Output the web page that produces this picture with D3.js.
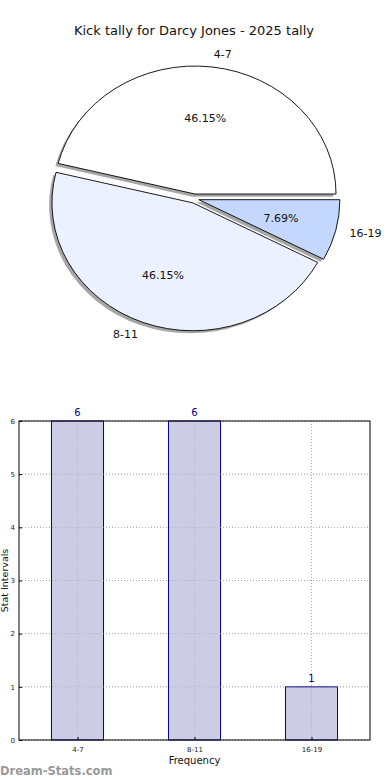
<!DOCTYPE html>
<html><head><meta charset="utf-8">
<script src="https://cdn.jsdelivr.net/npm/d3@7"></script>
<style>
html,body{margin:0;padding:0;background:#fff;}
svg{display:block;font-family:"DejaVu Sans",sans-serif;}
</style></head>
<body>
<svg id="c" width="390" height="780"></svg>
<script>
const title = "Kick tally for Darcy Jones - 2025 tally";
const categories = ["4-7", "8-11", "16-19"];
const values = [6, 6, 1];
const pieColors = ["#ffffff", "#ebf1ff", "#c4d8ff"];
const yTicks = [0, 1, 2, 3, 4, 5, 6];
const xLabel = "Frequency";
const yLabel = "Stat Intervals";
const watermark = "Dream-Stats.com";

const svg = d3.select("#c");

svg.append("text").attr("x", 194).attr("y", 35).attr("text-anchor", "middle")
  .attr("font-size", 13).attr("fill", "#111").text(title);

// ---- Pie ----
const cx = 194.5, cy = 198.6, rx = 141, ry = 128, ex = 4.5, ey = 4.6;
const total = d3.sum(values);
const pie = d3.pie().sort(null).startAngle(Math.PI / 2).endAngle(Math.PI / 2 - 2 * Math.PI);
const arcs = pie(values);
const arcGen = d3.arc().innerRadius(0).outerRadius(1);
const gPie = svg.append("g");

function off(d) {
  const m = (d.startAngle + d.endAngle) / 2;
  return [Math.sin(m) * ex, -Math.cos(m) * ey, m];
}
// shadows first
arcs.forEach((d, i) => {
  const [dx, dy] = off(d);
  gPie.append("path").attr("d", arcGen(d))
    .attr("transform", `translate(${cx + dx - 2.8},${cy + dy + 2.6}) scale(${rx},${ry})`)
    .attr("fill", "#4d4d4d").attr("fill-opacity", 0.5);
});
arcs.forEach((d, i) => {
  const [dx, dy] = off(d);
  gPie.append("path").attr("d", arcGen(d))
    .attr("transform", `translate(${cx + dx},${cy + dy}) scale(${rx},${ry})`)
    .attr("fill", pieColors[i]).attr("stroke", "#000").attr("stroke-width", 0.9)
    .attr("vector-effect", "non-scaling-stroke").attr("stroke-linejoin", "miter");
});
arcs.forEach((d, i) => {
  const [dx, dy, m] = off(d);
  const lx = cx + dx + Math.sin(m) * rx * 1.1, ly = cy + dy - Math.cos(m) * ry * 1.1;
  gPie.append("text").attr("x", lx).attr("y", ly).attr("dy", "0.35em")
    .attr("text-anchor", Math.sin(m) > 0 ? "start" : "end")
    .attr("font-size", 11).attr("fill", "#111").text(categories[i]);
  const px = cx + dx + Math.sin(m) * rx * 0.6, py = cy + dy - Math.cos(m) * ry * 0.6;
  gPie.append("text").attr("x", px).attr("y", py).attr("dy", "0.35em")
    .attr("text-anchor", "middle").attr("font-size", 11).attr("fill", "#111")
    .text((values[i] / total * 100).toFixed(2) + "%");
});

// ---- Bar chart ----
const L = 19, R = 370, T = 421, B = 740;
const x = d3.scaleLinear().domain([-0.5, categories.length - 0.5]).range([L, R]);
const y = d3.scaleLinear().domain([0, 6]).range([B, T]);
const bw = 0.445;
const gBar = svg.append("g");

// grid
yTicks.forEach(t => {
  gBar.append("line").attr("x1", L).attr("x2", R).attr("y1", y(t)).attr("y2", y(t))
    .attr("stroke", "#b8b8b8").attr("stroke-width", 1).attr("stroke-dasharray", "1,2");
});
categories.forEach((c, i) => {
  gBar.append("line").attr("x1", x(i)).attr("x2", x(i)).attr("y1", T).attr("y2", B)
    .attr("stroke", "#b8b8b8").attr("stroke-width", 1).attr("stroke-dasharray", "1,2");
});
// bars
categories.forEach((c, i) => {
  gBar.append("rect").attr("x", x(i - bw / 2)).attr("width", x(i + bw / 2) - x(i - bw / 2))
    .attr("y", y(values[i])).attr("height", y(0) - y(values[i]))
    .attr("fill", "#ccccE5").attr("stroke", "#00008b").attr("stroke-width", 1);
});
// grid over bars
yTicks.forEach(t => {
  gBar.append("line").attr("x1", L).attr("x2", R).attr("y1", y(t)).attr("y2", y(t))
    .attr("stroke", "#a0a0a0").attr("stroke-opacity", 0.6).attr("stroke-width", 1).attr("stroke-dasharray", "1,2");
});
categories.forEach((c, i) => {
  gBar.append("line").attr("x1", x(i)).attr("x2", x(i)).attr("y1", T).attr("y2", B)
    .attr("stroke", "#a0a0a0").attr("stroke-opacity", 0.6).attr("stroke-width", 1).attr("stroke-dasharray", "1,2");
});
// value labels
categories.forEach((c, i) => {
  gBar.append("text").attr("x", x(i)).attr("y", y(values[i]) - 5).attr("text-anchor", "middle")
    .attr("font-size", 10).attr("fill", "#00008b").text(values[i]);
});
// frame
gBar.append("rect").attr("x", L).attr("y", T).attr("width", R - L).attr("height", B - T)
  .attr("fill", "none").attr("stroke", "#000").attr("stroke-width", 1);

// axes
const yAxis = d3.axisLeft(y).tickValues(yTicks).tickSize(-3).tickPadding(4).tickFormat(d3.format("d"));
const ya = gBar.append("g").attr("transform", `translate(${L},0)`).call(yAxis);
ya.select(".domain").remove();
ya.selectAll("text").attr("font-size", 7).attr("fill", "#222").attr("font-family", "DejaVu Sans");
const xAxis = d3.axisBottom(x).tickValues(categories.map((c, i) => i)).tickSize(-3).tickPadding(7)
  .tickFormat(i => categories[i]);
const xa = gBar.append("g").attr("transform", `translate(0,${B})`).call(xAxis);
xa.select(".domain").remove();
xa.selectAll("text").attr("font-size", 7).attr("fill", "#222").attr("font-family", "DejaVu Sans");

svg.append("text").attr("x", (L + R) / 2).attr("y", 764).attr("text-anchor", "middle")
  .attr("font-size", 10).attr("fill", "#111").text(xLabel);
svg.append("text").attr("transform", `translate(8,${(T + B) / 2}) rotate(-90)`)
  .attr("text-anchor", "middle").attr("font-size", 9.5).attr("fill", "#111").text(yLabel);

svg.append("text").attr("x", 0).attr("y", 775).attr("font-size", 11.5).attr("font-weight", "bold")
  .attr("fill", "#999").text(watermark);
</script>
</body></html>
